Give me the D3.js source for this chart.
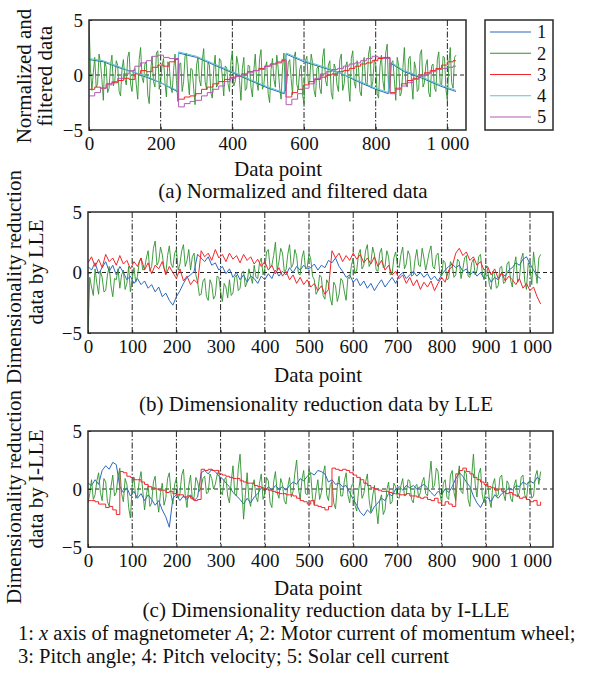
<!DOCTYPE html>
<html><head><meta charset="utf-8">
<script src="https://cdn.jsdelivr.net/npm/d3@7"></script>
<style>
body{margin:0;background:#fff}
text{font-family:"Liberation Serif","Times New Roman",serif;fill:#111}
</style>
</head><body><script>
// ---------- data ----------
const STEP = 8;   // sample spacing (data points) of series 1 and 3 in (b), (c)
const STEP_G = 4; // sample spacing of the noisy series 2
const ticksA = [0, 200, 400, 600, 800, 1000];
const ticksBC = [0, 100, 200, 300, 400, 500, 600, 700, 800, 900, 1000];
const yTicks = [-5, 0, 5];
const legendLabels = ["1", "2", "3", "4", "5"];
const xLabel = "Data point";
const captions = ["(a) Normalized and filtered data", "(b) Dimensionality reduction data by LLE", "(c) Dimensionality reduction data by I-LLE"];

// (a) series 1 and 4 (sawtooth, decreasing)
const sawX = [0, 40, 80, 120, 160, 200, 246, 250, 300, 350, 400, 450, 500, 545, 550, 600, 650, 700, 750, 800, 835, 840, 880, 930, 980, 1024];
const a1 = [1.4, 1.2, 0.7, 0.3, -0.2, -0.7, -1.5, 2.0, 1.6, 0.9, 0.2, -0.5, -1.2, -1.7, 1.9, 1.2, 0.7, 0.2, -0.6, -1.3, -1.7, 1.1, 0.3, -0.3, -1.0, -1.5];
const a4 = [1.5, 1.3, 0.8, 0.3, -0.1, -0.7, -1.4, 2.1, 1.7, 1.0, 0.3, -0.4, -1.1, -1.6, 2.0, 1.3, 0.8, 0.2, -0.5, -1.2, -1.6, 1.2, 0.4, -0.2, -0.9, -1.4];
// (a) series 3 and 5 (staircase, increasing)
const stairX = [0,16,32,48,64,80,96,112,128,144,160,176,192,208,224,240,
  250,266,282,298,314,330,346,362,378,394,410,426,442,458,474,490,506,522,538,
  550,566,582,598,614,630,646,662,678,694,710,726,742,758,774,790,806,822,
  840,856,872,888,904,920,936,952,968,984,1000,1016,1024];
const a3 = [-1.3,-1.1,-1.2,-0.8,-0.7,-0.5,-0.3,-0.4,0.1,0.4,0.3,0.7,0.9,0.8,1.2,1.4,
  -2.2,-2.0,-1.9,-1.7,-1.3,-1.1,-0.8,-0.6,-0.4,-0.2,-0.1,0.1,0.3,0.4,0.6,0.8,1.0,1.1,1.3,
  -2.0,-1.6,-1.3,-0.9,-0.6,-0.4,-0.2,0.0,0.1,0.3,0.4,0.6,0.8,1.0,1.1,1.3,1.5,1.6,
  -1.6,-1.2,-0.8,-0.5,-0.3,0.0,0.2,0.4,0.6,0.9,1.2,1.3,1.3];
const a5 = [-1.9,-1.6,-1.2,-0.9,-0.6,-0.3,0.1,0.4,0.8,1.1,1.3,1.7,1.8,1.6,1.5,1.5,
  -2.9,-2.6,-2.4,-2.3,-1.9,-1.6,-1.3,-1.0,-0.6,-0.3,-0.1,0.0,0.2,0.4,0.5,0.8,1.0,1.2,1.4,
  -2.7,-2.2,-1.7,-1.2,-0.8,-0.3,0.1,0.3,0.5,0.6,0.8,1.0,1.1,1.3,1.5,1.7,1.6,1.5,
  -1.7,-1.3,-1.0,-0.7,-0.4,-0.1,0.1,0.3,0.5,0.6,0.7,0.8,0.8];
// (a) series 2 (noisy), one value every STEP_G points
const a2 = [5.0,0.6,-1.4,0.2,1.6,-1.1,-0.8,1.9,1.1,-0.4,-2.3,1.2,0.7,-1.6,-1.2,0.9,
  1.8,-1.0,-0.5,1.3,0.9,-1.5,-1.9,0.5,1.4,-0.3,-0.9,1.6,2.1,-0.8,-1.5,0.4,
  0.6,-0.9,-2.2,1.4,2.5,-0.2,-0.7,1.0,1.2,-1.8,-2.6,0.3,1.7,-0.6,-1.1,2.0,
  2.2,-1.3,-0.4,0.9,1.5,-0.7,-2.0,1.2,0.8,-1.0,-1.6,0.4,1.9,-0.5,-2.4,1.0,
  1.1,-1.5,-0.6,1.7,2.0,-0.3,-1.8,0.6,0.5,-1.2,-2.7,0.9,1.6,-0.4,-1.0,1.3,
  2.4,-0.6,-1.3,1.1,0.9,-1.6,-2.1,0.5,1.8,-1.1,-0.8,1.5,1.3,-0.2,-1.9,0.8,
  0.7,-0.8,-1.5,1.2,2.2,-1.0,-0.6,1.7,1.0,-0.5,-2.3,0.6,1.6,-1.4,-1.2,0.9,
  0.8,-1.1,-2.0,0.4,1.9,-0.6,-1.4,1.5,2.3,-1.3,-0.9,0.7,1.2,-1.7,-2.5,0.5,
  1.5,-0.4,-1.1,1.8,0.6,-1.2,-2.2,0.7,2.0,-1.5,-0.7,1.1,1.4,-0.3,-1.8,1.6,
  2.1,-0.9,-1.3,0.5,0.9,-1.8,-2.6,1.3,1.7,-0.8,-0.5,1.9,1.1,-1.4,-2.0,0.6,
  0.8,-1.2,-1.7,1.6,2.4,-0.5,-1.0,0.9,1.3,-1.6,-2.2,1.0,0.6,-0.9,-1.5,1.4,
  1.9,-1.4,-0.8,0.8,1.2,-1.0,-2.4,1.5,2.2,-0.6,-1.2,1.3,0.7,-1.5,-1.9,1.1,
  1.6,-0.7,-1.0,1.9,2.6,-1.2,-0.6,1.4,1.0,-1.7,-2.1,0.8,1.8,-0.5,-1.4,2.0,
  2.8,-1.3,-0.9,1.1,1.3,-0.4,-2.3,1.6,0.9,-1.9,-1.6,0.7,2.5,-0.8,-1.1,1.5,
  1.7,-0.6,-2.2,1.2,0.6,-1.5,-1.3,1.9,2.3,-1.1,-0.7,0.9,1.4,-1.6,-2.0,0.8,
  1.0,-1.2,-1.5,1.4,2.1,-0.8,-0.9,1.7,1.6,-1.3,-2.3,0.9,2.5,-0.7,-1.2,1.6,
  1.8];

// (b) LLE
const b1 = [0.5,0.2,0.8,-0.1,0.4,0.9,0.1,0.6,
  -0.2,0.5,0.0,-0.6,-0.3,-0.9,-0.5,-1.0,
  -0.7,-1.3,-1.0,-1.6,-1.2,-2.0,-1.7,-2.3,
  -2.7,-2.0,-1.5,-0.9,-0.4,-0.2,0.1,1.5,
  1.2,0.9,1.3,0.6,0.8,0.2,0.5,-0.1,
  0.3,-0.4,0.0,-0.6,-0.2,-0.8,-0.3,-0.5,
  -0.9,-0.3,-0.6,-0.1,-0.5,0.2,-0.3,0.1,
  -0.2,0.4,0.0,0.5,0.2,0.6,0.3,0.4,
  0.7,0.2,0.6,0.4,1.0,0.8,1.2,0.5,
  0.1,-0.4,-0.2,-0.8,-0.5,-1.1,-0.7,-1.3,
  -0.9,-1.5,-1.0,-0.6,-1.2,-0.8,-0.4,-0.9,
  -0.3,0.0,-0.5,-0.2,0.1,-0.3,0.0,-0.4,
  -0.1,-0.6,-0.3,-0.7,-0.2,0.2,0.5,0.7,
  0.4,0.6,0.1,0.3,-0.2,0.1,-0.3,0.0,
  -0.5,-0.2,-0.8,-0.4,-0.6,-0.1,-0.3,0.2,
  0.4,0.8,0.6,1.1,1.3,0.7,0.2,-0.3,
  -0.5];
const b2 = [-5.0,-0.4,-1.2,-1.9,0.3,-0.9,-1.8,0.1,-0.4,-1.6,-1.5,-0.2,0.5,-1.1,-2.0,-0.5,
  -0.6,0.3,-1.3,-0.2,0.2,-1.4,-0.9,0.5,-1.6,-0.5,0.4,-0.8,-0.3,0.9,1.2,0.2,
  0.3,1.2,1.8,0.1,0.5,2.0,2.6,0.6,0.9,2.1,1.5,0.4,-0.1,1.4,2.2,0.7,
  0.4,1.6,1.9,0.2,0.7,1.8,2.3,0.5,1.0,1.9,0.2,1.3,1.6,-0.2,-0.8,-1.9,
  -1.8,-0.7,-0.5,-2.0,-2.3,-0.6,-1.0,-2.2,-1.9,-0.3,-0.4,-1.6,-2.4,-0.9,-1.2,-2.1,
  -0.6,-1.9,-1.7,-0.4,-0.2,-1.5,-1.3,0.0,0.1,-1.2,-0.8,0.3,-0.3,-0.9,0.6,-0.4,
  -0.5,0.8,1.2,-0.2,0.3,1.7,1.9,0.4,0.6,1.4,2.5,0.2,0.9,2.0,1.6,0.1,
  0.2,1.5,2.3,0.4,0.7,1.9,1.4,-0.1,-0.2,1.2,1.8,0.3,0.4,1.6,1.1,-0.3,
  -0.6,-1.8,-1.5,-0.2,-0.4,-1.9,-2.2,-0.6,-0.9,-2.1,-2.7,-0.8,-1.1,-2.4,-1.8,-0.5,
  -0.7,-1.6,-2.3,-0.4,-0.5,0.6,1.2,-0.1,0.2,1.5,1.9,0.3,0.6,1.8,2.3,0.5,
  0.8,2.1,1.5,0.2,0.1,1.6,2.0,0.4,0.5,1.8,1.3,-0.2,-0.1,1.2,1.7,0.6,
  0.4,1.5,2.1,0.3,0.7,1.8,1.4,-0.3,-0.2,1.1,1.9,0.6,0.5,2.0,1.2,0.2,
  0.9,1.7,2.2,0.5,0.3,1.4,1.6,-0.1,-0.3,1.0,0.8,-0.6,-0.5,0.9,0.6,-0.4,
  -0.2,1.1,0.9,-0.5,0.3,1.2,1.4,-0.3,-0.4,0.8,1.1,-0.2,0.2,1.3,1.5,0.0,
  -0.6,0.6,0.3,-1.0,-1.4,0.1,-0.2,-1.3,-1.1,0.4,0.5,-0.9,-0.8,0.7,0.9,-0.6,
  -1.2,0.5,1.3,-0.8,-0.5,1.1,1.6,-0.7,-1.4,0.8,0.4,-1.0,1.7,0.3,-0.9,1.2,
  1.5];
const b3 = [0.8,1.3,0.5,1.1,0.4,1.5,0.9,1.2,
  0.6,1.4,0.7,1.0,0.3,0.9,0.5,1.2,
  0.2,0.8,-0.1,0.6,0.3,0.9,-0.2,0.5,
  0.0,-0.5,0.3,-0.7,-0.3,-1.0,-0.6,-0.9,
  1.8,1.3,1.6,1.0,1.9,1.2,1.5,0.9,
  1.6,1.1,1.4,0.8,1.5,1.0,1.3,0.7,
  1.1,0.5,0.9,0.2,0.6,-0.1,0.4,-0.3,
  0.1,-0.6,-0.2,-0.9,-0.4,-1.0,-0.6,-1.2,
  -0.9,-1.5,-1.1,-1.8,-1.4,1.8,1.2,1.6,
  0.9,1.4,1.0,1.6,1.1,1.5,0.8,1.2,
  0.7,1.3,0.5,1.0,0.2,0.6,-0.2,0.1,
  -0.5,-0.2,-0.9,-0.4,-1.1,-0.6,-1.4,-0.8,
  -1.2,-0.7,-1.5,-0.9,-0.4,-0.8,0.2,0.5,
  1.6,2.0,1.4,1.7,1.0,1.3,0.6,0.9,
  0.2,0.5,-0.2,0.3,-0.5,0.0,-0.7,-0.3,
  -0.6,-1.0,-0.5,-1.3,-0.9,-1.5,-1.2,-2.0,
  -2.6];

// (c) I-LLE
const c1 = [0.5,0.3,0.8,0.4,1.6,2.0,1.7,2.3,
  2.1,0.2,-0.3,0.1,-0.6,-0.2,-0.8,-0.4,
  -1.0,-0.5,-0.9,-1.4,-1.0,-1.8,-2.4,-3.3,
  -0.8,-0.5,-1.0,-0.6,-0.9,-0.5,-1.0,-0.7,
  1.4,1.6,1.3,1.7,1.5,1.1,0.9,0.5,
  0.2,-0.3,-0.6,-0.9,-1.3,-0.8,-1.2,-0.7,
  -0.4,0.1,-0.2,0.2,-0.1,0.3,0.0,0.2,
  -0.1,0.3,0.6,0.4,0.9,0.7,1.1,1.4,
  1.2,1.6,1.5,1.3,0.6,0.8,0.4,0.5,
  0.2,0.3,-0.3,-0.9,-1.4,-2.0,-2.3,-1.8,
  -2.1,-1.5,-1.2,-0.8,-1.0,-0.4,-0.6,0.0,
  0.2,-0.1,0.3,0.1,0.3,0.0,0.2,0.4,
  0.1,-0.3,-0.6,-0.2,-0.5,0.0,-0.3,0.2,
  0.9,1.4,1.1,0.6,0.2,-0.6,-1.2,-1.6,
  -1.0,-0.7,-1.1,-0.5,-0.8,-0.4,-0.2,0.1,
  -0.1,0.3,0.2,0.6,0.4,0.7,0.5,1.0,
  0.8];
const c2 = [-1.2,-0.4,0.8,-0.9,-0.5,0.7,1.4,-0.3,-1.0,0.9,0.6,-1.1,-1.5,0.2,1.2,-0.6,
  -0.3,1.1,1.8,-0.4,-1.1,0.9,0.4,-1.6,-2.5,0.3,1.0,-0.8,-0.6,0.7,1.5,-0.2,
  -1.8,-0.5,0.3,-1.5,-1.2,0.6,1.1,-0.9,-2.0,-0.3,0.5,-1.4,-0.8,0.9,1.4,-0.5,
  -1.3,0.4,0.9,-0.8,-0.4,1.2,1.7,-0.6,-1.6,0.3,1.2,-0.9,-0.7,1.0,0.6,-0.2,
  0.2,0.9,1.1,-0.4,-0.3,1.3,0.9,0.0,0.4,1.2,1.6,-0.2,-0.5,0.8,1.0,-0.6,
  -1.2,0.6,2.0,-0.4,-0.6,1.8,3.0,0.2,-2.6,-0.5,1.4,-0.9,-1.5,0.3,0.8,-0.7,
  -1.1,0.5,1.3,-0.9,-0.4,1.0,0.7,-1.2,-1.6,0.6,1.5,-0.3,-0.8,0.9,0.4,-1.0,
  -1.3,0.2,1.0,-0.7,-0.2,1.4,2.5,0.1,-0.9,0.8,1.6,-0.4,-0.5,1.7,1.2,-0.8,
  -1.4,-0.2,0.8,-0.9,-0.3,1.3,2.0,-0.5,-1.0,0.4,0.6,-1.2,-1.7,0.2,1.1,-0.6,
  -0.6,0.7,1.4,-0.5,-1.2,0.3,0.5,-1.4,-1.9,-0.2,0.9,-0.8,-0.4,0.6,1.3,-0.9,
  -2.0,-0.6,0.3,-1.6,-3.0,-1.0,-0.5,-2.2,-1.8,-0.1,0.6,-1.3,-1.1,0.5,0.2,-0.7,
  -0.8,0.3,0.9,-0.6,-0.5,0.8,0.7,-0.9,-1.2,0.2,0.4,-0.7,-0.3,0.6,1.0,-0.4,
  -0.6,0.9,2.4,0.1,0.3,1.8,1.5,-0.4,-1.2,0.5,0.8,-0.7,-0.9,1.2,1.6,-0.3,
  -1.0,0.8,2.0,-0.2,-0.4,1.6,1.3,-0.9,-1.5,1.1,3.0,0.4,-0.7,1.3,1.8,-0.5,
  -1.2,0.2,0.6,-0.9,-1.6,0.4,0.9,-0.7,-0.5,1.0,1.2,-0.4,-1.0,0.7,0.4,-0.8,
  -1.1,0.3,0.8,-0.7,-0.3,1.0,1.2,-0.5,-0.9,0.6,0.5,-0.8,-0.6,1.1,1.6,0.4,
  1.5];
const c3 = [-1.0,-1.0,-1.1,-1.3,-1.3,-1.6,-1.5,-1.8,
  -2.2,1.5,1.4,1.1,1.0,0.8,0.8,0.6,
  0.4,0.2,0.1,0.0,-0.1,-0.1,-0.3,-0.2,
  -0.4,-0.5,-0.5,-0.7,-0.6,-0.8,-1.0,-0.9,
  1.7,1.6,1.7,1.6,1.6,1.3,1.2,1.1,
  1.0,0.9,0.9,0.7,0.6,0.5,0.5,0.3,
  0.2,0.1,0.0,-0.1,-0.2,-0.3,-0.4,-0.4,
  -0.5,-0.5,-0.6,-0.8,-1.0,-1.1,-1.3,-1.0,
  -1.4,-1.5,-1.6,-1.8,-1.5,1.8,1.7,1.6,
  1.7,1.6,1.4,1.2,1.0,0.8,0.5,0.3,
  0.1,0.0,-0.1,-0.2,-0.2,-0.3,-0.4,-0.4,
  -0.5,-0.5,-0.4,-0.6,-0.6,-0.7,-0.8,-0.7,
  -0.9,-1.0,-0.8,-1.2,-1.4,-1.1,-1.3,-1.5,
  1.3,1.6,1.8,1.5,1.3,1.0,0.8,0.6,
  0.4,0.2,0.1,-0.1,0.0,-0.2,-0.4,-0.3,
  -0.5,-0.6,-0.8,-0.7,-0.9,-1.1,-1.0,-1.4,
  -1.1];

const footnote1 = [["1: ", false], ["x", true], [" axis of magnetometer ", false], ["A", true], ["; 2: Motor current of momentum wheel;", false]];
const footnote2 = "3: Pitch angle; 4: Pitch velocity; 5: Solar cell current";

// ---------- drawing ----------
const COL = {1: "#2c68c0", 2: "#2f922f", 3: "#f2262b", 4: "#5cc3d4", 5: "#b25cb2"};
const svg = d3.select("body").append("svg").attr("width", 599).attr("height", 676);
svg.append("rect").attr("width", 599).attr("height", 676).attr("fill", "#fff");

function seq(vals, step) { return vals.map((v, i) => ({x: i * step, y: v})); }
function pairs(xs, ys) { return ys.map((v, i) => ({x: xs[i], y: v})); }

function panel(cfg, idx) {
  const {left, right, top, bottom, ticks, series, ylab, ylabC} = cfg;
  const x = d3.scaleLinear().domain([0, 1052]).range([left, right]);
  const y = d3.scaleLinear().domain([-5, 5]).range([bottom, top]);
  const g = svg.append("g");
  const cid = "clip" + idx;
  g.append("clipPath").attr("id", cid).append("rect")
    .attr("x", left).attr("y", top).attr("width", right - left).attr("height", bottom - top);
  // grid
  g.selectAll(".vg").data(ticks.filter(d => d > 0)).enter().append("line")
    .attr("x1", d => x(d)).attr("x2", d => x(d)).attr("y1", top).attr("y2", bottom)
    .attr("stroke", "#222").attr("stroke-width", 1).attr("stroke-dasharray", "6,2,1.5,2");
  g.append("line").attr("x1", left).attr("x2", right).attr("y1", y(0)).attr("y2", y(0))
    .attr("stroke", "#222").attr("stroke-width", 1).attr("stroke-dasharray", "4,3");
  // series
  const lg = g.append("g").attr("clip-path", `url(#${cid})`);
  series.forEach(s => {
    const line = d3.line().x(d => x(d.x)).y(d => y(d.y)).curve(s.curve || d3.curveLinear);
    lg.append("path").datum(s.data).attr("d", line).attr("fill", "none")
      .attr("stroke", COL[s.id]).attr("stroke-width", s.w || 1).attr("stroke-linejoin", "round");
  });
  // axes
  const xa = d3.axisBottom(x).tickValues(ticks).tickSize(-3).tickPadding(7)
    .tickFormat(d => d === 1000 ? "1 000" : String(d));
  const xg = g.append("g").attr("transform", `translate(0,${bottom})`).call(xa);
  const ya = d3.axisLeft(y).tickValues(yTicks).tickSize(-3).tickPadding(6)
    .tickFormat(d => d < 0 ? "\u2212" + Math.abs(d) : String(d));
  const yg = g.append("g").attr("transform", `translate(${left},0)`).call(ya);
  [xg, yg].forEach(a => {
    a.select(".domain").remove();
    a.selectAll(".tick line").attr("stroke", "#222");
    a.selectAll("text").attr("font-family", '"Liberation Serif", serif').attr("font-size", 19).attr("fill", "#111");
  });
  g.append("rect").attr("x", left).attr("y", top).attr("width", right - left).attr("height", bottom - top)
    .attr("fill", "none").attr("stroke", "#2a2a2a").attr("stroke-width", 1.5);
  // labels
  g.append("text").attr("x", cfg.xlabX).attr("y", cfg.xlabY).attr("text-anchor", "middle")
    .attr("font-size", 21).text(xLabel);
  g.append("text").attr("x", cfg.capX).attr("y", cfg.capY).attr("text-anchor", "middle")
    .attr("font-size", 21).text(captions[idx]);
  ylab.forEach((t, i) => {
    g.append("text").attr("transform", `translate(${cfg.ylabX[i]},${ylabC[i]}) rotate(-90)`)
      .attr("text-anchor", "middle").attr("font-size", 21).text(t);
  });
}

panel({left: 89, right: 466, top: 20, bottom: 130, ticks: ticksA,
  series: [
    {id: 1, data: pairs(sawX, a1)},
    {id: 2, data: seq(a2, STEP_G), w: 0.9},
    {id: 3, data: pairs(stairX, a3), curve: d3.curveStepAfter},
    {id: 4, data: pairs(sawX, a4)},
    {id: 5, data: pairs(stairX, a5), curve: d3.curveStepAfter}
  ],
  ylab: ["Normalized and", "filtered data"], ylabX: [31, 52], ylabC: [76, 76],
  xlabX: 278, xlabY: 176, capX: 293, capY: 198}, 0);

panel({left: 88, right: 553, top: 212, bottom: 333, ticks: ticksBC,
  series: [
    {id: 1, data: seq(b1, STEP)},
    {id: 2, data: seq(b2, STEP_G), w: 0.9},
    {id: 3, data: seq(b3, STEP)}
  ],
  ylab: ["Dimensionality reduction", "data by LLE"], ylabX: [21, 43], ylabC: [277, 272],
  xlabX: 318, xlabY: 382, capX: 316, capY: 411}, 1);

panel({left: 88, right: 553, top: 431, bottom: 547, ticks: ticksBC,
  series: [
    {id: 1, data: seq(c1, STEP)},
    {id: 2, data: seq(c2, STEP_G), w: 0.9},
    {id: 3, data: seq(c3, STEP), curve: d3.curveStepAfter}
  ],
  ylab: ["Dimensionality reduction", "data by I-LLE"], ylabX: [21, 43], ylabC: [497, 489],
  xlabX: 318, xlabY: 595, capX: 326, capY: 617}, 2);

// legend
const lgd = svg.append("g");
lgd.append("rect").attr("x", 485).attr("y", 20).attr("width", 68).attr("height", 110)
  .attr("fill", "#fff").attr("stroke", "#2a2a2a").attr("stroke-width", 1.5);
const ly = d3.scalePoint().domain(legendLabels).range([32, 117]);
legendLabels.forEach((lab, i) => {
  lgd.append("line").attr("x1", 490).attr("x2", 531).attr("y1", ly(lab)).attr("y2", ly(lab))
    .attr("stroke", COL[i + 1]).attr("stroke-width", 1.2);
  lgd.append("text").attr("x", 537).attr("y", ly(lab)).attr("dy", "0.35em")
    .attr("font-size", 18.5).text(lab);
});

// footnote
const f1 = svg.append("text").attr("x", 18).attr("y", 640).attr("font-size", 20.5);
footnote1.forEach(([t, it]) => f1.append("tspan").attr("font-style", it ? "italic" : null).text(t));
svg.append("text").attr("x", 18).attr("y", 663).attr("font-size", 20.5).text(footnote2);
</script></body></html>
